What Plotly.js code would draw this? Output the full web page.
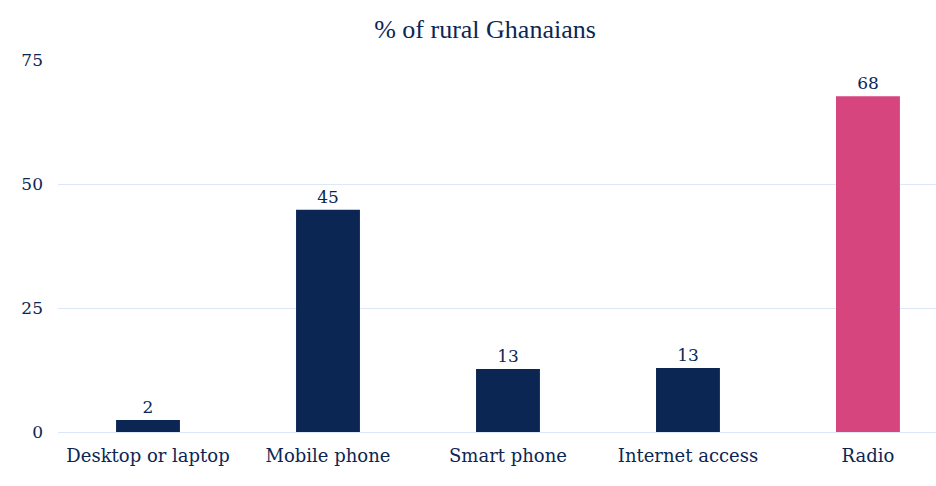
<!DOCTYPE html>
<html>
<head>
<meta charset="utf-8">
<script src="https://cdn.plot.ly/plotly-3.0.1.min.js"></script>
<style>html,body{margin:0;padding:0;background:#fff;}#chart{width:936px;height:486px;}</style>
</head>
<body>
<div id="chart"></div>
<script>
const categories = ["Desktop or laptop", "Mobile phone", "Smart phone", "Internet access", "Radio"];
const values = [2.4, 44.8, 12.7, 12.9, 67.7];
const labels = ["2", "45", "13", "13", "68"];
const barColors = ["#0c2654", "#0c2654", "#0c2654", "#0c2654", "#d6457d"];
const yTicks = [0, 25, 50, 75];

const navy = "#0c2654";
const font = "DejaVu Serif, serif";

Plotly.newPlot("chart", [{
  type: "bar",
  x: categories,
  y: values,
  text: labels,
  textposition: "outside",
  cliponaxis: false,
  textfont: {family: font, size: 17, color: navy},
  marker: {color: barColors, line: {width: 0}},
  width: 0.355,
  hoverinfo: "none"
}], {
  width: 936, height: 486,
  margin: {l: 58, r: 0, t: 60, b: 54},
  paper_bgcolor: "#ffffff", plot_bgcolor: "#ffffff",
  showlegend: false,
  title: {text: "% of rural Ghanaians", x: 485/936, xanchor: "center", xref: "container", y: 0.94, yanchor: "middle",
          font: {family: "Liberation Serif, serif", size: 26, color: navy}},
  xaxis: {range: [-0.5, 4.378], showgrid: false, zeroline: false, showline: false,
          tickfont: {family: font, size: 18, color: navy}, ticks: "", ticklabelstandoff: 11, fixedrange: true},
  yaxis: {range: [0, 75], tickvals: yTicks, ticktext: yTicks.map(String), showgrid: true, gridcolor: "#dce8fa", gridwidth: 1,
          zeroline: true, zerolinecolor: "#dce8fa", zerolinewidth: 1, showline: false,
          tickfont: {family: font, size: 17, color: navy}, ticks: "", ticklabelstandoff: 14, fixedrange: true}
}, {staticPlot: true, displayModeBar: false});
</script>
</body>
</html>
